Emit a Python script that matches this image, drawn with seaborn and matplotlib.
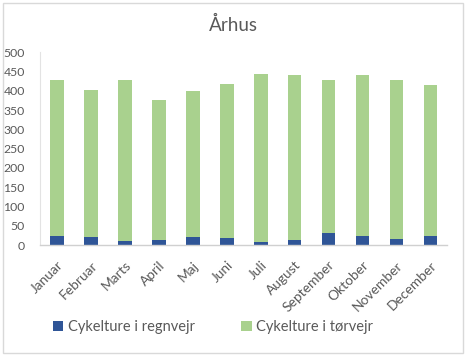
import matplotlib
matplotlib.use("Agg")
import matplotlib.pyplot as plt
from matplotlib.patches import Patch, Rectangle
import seaborn as sns
import pandas as pd

months = ["Januar", "Februar", "Marts", "April", "Maj", "Juni", "Juli",
          "August", "September", "Oktober", "November", "December"]
rain = [23, 21, 10, 13, 21, 18, 8, 13, 31, 23, 16, 23]
dry = [405, 381, 418, 363, 379, 400, 436, 428, 397, 418, 412, 392]
yticks = [0, 50, 100, 150, 200, 250, 300, 350, 400, 450, 500]
title = "Århus"
labels = ["Cykelture i regnvejr", "Cykelture i tørvejr"]

blue = "#2F5597"
green = "#A9D18E"
gray = "#595959"

sns.set_theme(style="white")
plt.rcParams["font.family"] = ["Lato", "DejaVu Sans"]

df = pd.DataFrame({"month": months, "rain": rain, "dry": dry})
df["total"] = df["rain"] + df["dry"]

fig = plt.figure(figsize=(4.66, 3.57), dpi=100)
ax = fig.add_axes([40 / 466, 1 - 245 / 357, (447.5 - 40) / 466, (245 - 52.3) / 357])

sns.barplot(data=df, x="month", y="total", color=green, width=0.4,
            saturation=1, ax=ax, edgecolor="none")
sns.barplot(data=df, x="month", y="rain", color=blue, width=0.4,
            saturation=1, ax=ax, edgecolor="none")

ax.set_xlim(-0.5, len(months) - 0.5)
ax.set_ylim(0, 500)
ax.set_yticks(yticks)
ax.set_xlabel("")
ax.set_ylabel("")
ax.tick_params(axis="both", length=0, colors=gray)
ax.tick_params(axis="y", pad=11, labelsize=8.8)
ax.tick_params(axis="x", pad=10, labelsize=9.9)
plt.setp(ax.get_xticklabels(), rotation=45, ha="right", rotation_mode="anchor")

for side in ["top", "right"]:
    ax.spines[side].set_visible(False)
ax.spines["left"].set_color("#E3E3E3")
ax.spines["left"].set_linewidth(0.8)
ax.spines["bottom"].set_color("#D0D0D0")
ax.spines["bottom"].set_linewidth(1.0)
ax.grid(False)

fig.text(233 / 466, 1 - 25 / 357, title, ha="center", va="center",
         fontsize=13.5, color=gray)

handles = [Patch(facecolor=blue, edgecolor="none"),
           Patch(facecolor=green, edgecolor="none")]
fig.legend(handles, labels, loc="center", bbox_to_anchor=(213 / 466, 1 - 327 / 357),
           ncol=2, frameon=False, fontsize=10.5, handlelength=0.7, handleheight=0.7,
           handletextpad=0.3, columnspacing=3.2, labelcolor=gray)

fig.patches.append(Rectangle((2.5 / 466, 1 - 353 / 357), 460 / 466, 350 / 357,
                             transform=fig.transFigure, fill=False,
                             edgecolor="#D9D9D9", linewidth=1.0))

fig.savefig("out.png", dpi=100)
